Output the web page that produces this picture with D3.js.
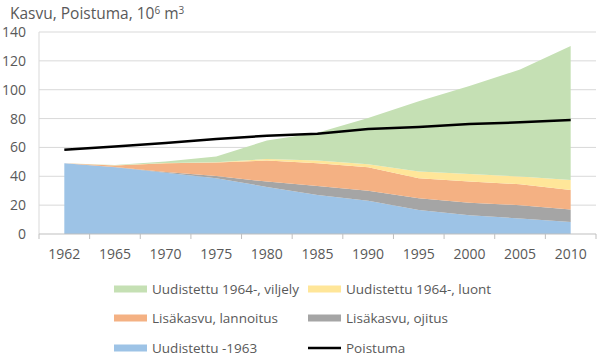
<!DOCTYPE html>
<html>
<head>
<meta charset="utf-8">
<script src="https://cdn.jsdelivr.net/npm/d3@7"></script>
<style>
  body { margin: 0; background: #fff; }
  svg text { font-family: "Open Sans", "Noto Sans", sans-serif; fill: #595959; }
</style>
</head>
<body>
<svg id="chart" width="600" height="358"></svg>
<script>
// Data
const years = ["1962", "1965", "1970", "1975", "1980", "1985", "1990", "1995", "2000", "2005", "2010"];
const uudistettu1963 = [49, 46.3, 42.5, 38.6, 32.6, 27, 23, 16.6, 13, 10.8, 8.4];
const ojitus = [0, 0.2, 0.5, 1.6, 3.7, 6.3, 7, 8.1, 8.7, 9.2, 8.6];
const lannoitus = [0, 1, 6, 9.3, 14.7, 15.7, 16.2, 13.9, 14.6, 14.5, 13.5];
const luont = [0, 0.1, 0.2, 0.2, 1, 2, 2.1, 4.7, 5.3, 5.3, 7];
const viljely = [0, 0.2, 1, 4, 12.8, 19.2, 32.1, 48.7, 60.9, 74.2, 92.8];
const poistuma = [58.4, 60.7, 63, 65.8, 68.1, 69.5, 72.8, 74.2, 76.2, 77.4, 79];
const yTicks = [0, 20, 40, 60, 80, 100, 120, 140];

const seriesDefs = [
  { key: "u1963", name: "Uudistettu -1963", values: uudistettu1963, color: "#9dc3e6" },
  { key: "ojitus", name: "Lisäkasvu, ojitus", values: ojitus, color: "#a5a5a5" },
  { key: "lannoitus", name: "Lisäkasvu, lannoitus", values: lannoitus, color: "#f4b183" },
  { key: "luont", name: "Uudistettu 1964-, luont", values: luont, color: "#ffe699" },
  { key: "viljely", name: "Uudistettu 1964-, viljely", values: viljely, color: "#c5e0b4" }
];

const svg = d3.select("#chart");
const margin = { left: 39, right: 4, top: 32, bottom: 124 };
const width = 600, height = 358;

const x = d3.scaleBand()
  .domain(years)
  .range([margin.left, width - margin.right]);
const y = d3.scaleLinear()
  .domain([0, 140])
  .range([height - margin.bottom, margin.top]);

const cx = (d) => x(d) + x.bandwidth() / 2;

// Gridlines
svg.append("g")
  .selectAll("line")
  .data(yTicks.filter((t) => t > 0))
  .join("line")
  .attr("x1", margin.left)
  .attr("x2", width - margin.right)
  .attr("y1", (d) => y(d))
  .attr("y2", (d) => y(d))
  .attr("stroke", "#d9d9d9")
  .attr("stroke-width", 1);

// Stacked areas
const table = years.map((yr, i) => {
  const row = { year: yr };
  seriesDefs.forEach((s) => (row[s.key] = s.values[i]));
  return row;
});
const stack = d3.stack().keys(seriesDefs.map((s) => s.key));
const stacked = stack(table);

const area = d3.area()
  .x((d) => cx(d.data.year))
  .y0((d) => y(d[0]))
  .y1((d) => y(d[1]));

svg.append("g")
  .selectAll("path")
  .data(stacked)
  .join("path")
  .attr("d", area)
  .attr("fill", (d, i) => seriesDefs[i].color);

// Y axis line
svg.append("line")
  .attr("x1", margin.left).attr("x2", margin.left)
  .attr("y1", y(140)).attr("y2", y(0))
  .attr("stroke", "#d9d9d9");

// X axis line + ticks at category boundaries
const xAxis = svg.append("g");
xAxis.append("line")
  .attr("x1", margin.left).attr("x2", width - margin.right)
  .attr("y1", y(0)).attr("y2", y(0))
  .attr("stroke", "#bfbfbf");
const bounds = years.map((d) => x(d)).concat([x(years[years.length - 1]) + x.bandwidth()]);
xAxis.selectAll("line.tick")
  .data(bounds)
  .join("line")
  .attr("class", "tick")
  .attr("x1", (d) => d).attr("x2", (d) => d)
  .attr("y1", y(0)).attr("y2", y(0) + 5)
  .attr("stroke", "#bfbfbf");
xAxis.selectAll("text")
  .data(years)
  .join("text")
  .attr("x", (d) => cx(d))
  .attr("y", y(0) + 25)
  .attr("text-anchor", "middle")
  .style("font-size", "14px")
  .text((d) => d);

// Y tick labels
svg.append("g")
  .selectAll("text")
  .data(yTicks)
  .join("text")
  .attr("x", 26)
  .attr("y", (d) => y(d) + 5)
  .attr("text-anchor", "end")
  .style("font-size", "14px")
  .text((d) => d);

// Poistuma line
const line = d3.line()
  .x((d, i) => cx(years[i]))
  .y((d) => y(d));
svg.append("path")
  .datum(poistuma)
  .attr("d", line)
  .attr("fill", "none")
  .attr("stroke", "#000")
  .attr("stroke-width", 2.5);

// Title
const title = svg.append("text")
  .attr("x", 10)
  .attr("y", 19)
  .style("font-size", "15.5px");
title.append("tspan").text("Kasvu, Poistuma, 10");
title.append("tspan").attr("dy", -5).style("font-size", "10px").text("6");
title.append("tspan").attr("dy", 5).text(" m");
title.append("tspan").attr("dy", -5).style("font-size", "10px").text("3");

// Legend
const legendItems = [
  { name: "Uudistettu 1964-, viljely", color: "#c5e0b4", type: "area", col: 0, row: 0 },
  { name: "Uudistettu 1964-, luont", color: "#ffe699", type: "area", col: 1, row: 0 },
  { name: "Lisäkasvu, lannoitus", color: "#f4b183", type: "area", col: 0, row: 1 },
  { name: "Lisäkasvu, ojitus", color: "#a5a5a5", type: "area", col: 1, row: 1 },
  { name: "Uudistettu -1963", color: "#9dc3e6", type: "area", col: 0, row: 2 },
  { name: "Poistuma", color: "#000", type: "line", col: 1, row: 2 }
];
const colX = [114, 308];
const rowY = [289, 318, 348];
const legend = svg.append("g")
  .selectAll("g")
  .data(legendItems)
  .join("g")
  .attr("transform", (d) => `translate(${colX[d.col]},${rowY[d.row]})`);
legend.append("rect")
  .attr("x", 0)
  .attr("y", (d) => (d.type === "line" ? -1.25 : -3.5))
  .attr("width", 33)
  .attr("height", (d) => (d.type === "line" ? 2.5 : 7))
  .attr("fill", (d) => d.color);
legend.append("text")
  .attr("x", 38)
  .attr("y", 5)
  .style("font-size", "13.5px")
  .text((d) => d.name);
</script>
</body>
</html>
